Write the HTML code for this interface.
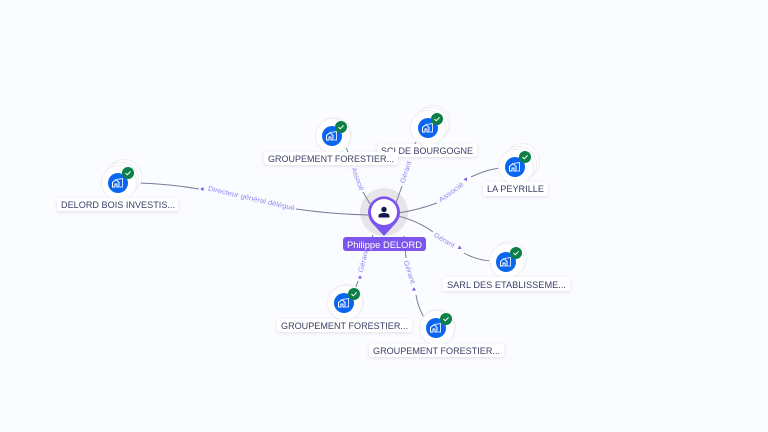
<!DOCTYPE html>
<html><head><meta charset="utf-8"><style>
html,body{margin:0;padding:0;background:#fbfcff;width:768px;height:432px;overflow:hidden}
svg{display:block}
.l{font:9.5px "Liberation Sans",sans-serif;fill:#3a3f66}
.e{font:7px "Liberation Sans",sans-serif;fill:#9385f3}
.c{fill:none;stroke:#7b7d98;stroke-width:1}
.w{fill:#fff;stroke:#eeeef2;stroke-width:1}
</style></head><body>
<svg width="768" height="432" viewBox="0 0 768 432" xmlns="http://www.w3.org/2000/svg">
<defs>
<filter id="s" x="-20%" y="-50%" width="140%" height="220%"><feDropShadow dx="0" dy="1" stdDeviation="1.5" flood-color="#9a9db5" flood-opacity=".3"/></filter>
<g id="i">
<circle r="10" fill="#0a66f0"/>
<path d="M-5.5 4V-.5L-2 -3.500L1 -.5V4H-1V1H-3V4Z" fill="none" stroke="#fff" stroke-width="1"/>
<path d="M-1 -3.500L4.500 -4.500V4H2" fill="none" stroke="#cfe0ff" stroke-width="1"/>
</g>
<g id="k">
<circle r="6" fill="#0b7f45"/>
<path d="M-2.500 0L-.7 1.800L2.600 -1.600" fill="none" stroke="#fff" stroke-width="1"/>
</g>
<path id="a" d="M-1.800 0L1.500 -2V2Z" fill="#7357e8"/>
</defs>

<!-- halo under connectors -->
<circle cx="384" cy="212" r="24" fill="#e6e6ea"/>

<!-- connectors -->
<path class="c" d="M139 183Q170 184 199 189"/>
<path class="c" d="M296 209Q330 214 368 215"/>
<path class="c" d="M344 143L348 152M363 192L370 204"/>
<path class="c" d="M416 142L413 147M402 186L396 203"/>
<path class="c" d="M398 213Q418 210 437 203"/>
<path class="c" d="M471 177Q485 170 500 168"/>
<path class="c" d="M398 216Q418 221 433 232"/>
<path class="c" d="M464 253Q476 260 491 261"/>
<path class="c" d="M373 235L367 249M358 281L356 287"/>
<path class="c" d="M404 236L406 258M416 295Q418 308 425 319"/>

<!-- arrows -->
<use href="#a" transform="translate(202 189)"/>
<use href="#a" transform="translate(466 179) rotate(125)"/>
<use href="#a" transform="translate(460 248) rotate(210)"/>
<use href="#a" transform="translate(360 277) rotate(90)"/>
<use href="#a" transform="translate(414 289) rotate(90)"/>

<!-- edge labels -->
<text class="e" transform="translate(251.500 198) rotate(13)" text-anchor="middle" dy="2.500" textLength="89" lengthAdjust="spacingAndGlyphs">Directeur général délégué</text>
<text class="e" transform="translate(358 179) rotate(70)" text-anchor="middle" dy="2.500" textLength="24" lengthAdjust="spacingAndGlyphs">Associé</text>
<text class="e" transform="translate(405.500 172) rotate(-72)" text-anchor="middle" dy="2.500" textLength="23" lengthAdjust="spacingAndGlyphs">Gérant</text>
<text class="e" transform="translate(451 192) rotate(-36)" text-anchor="middle" dy="2.500" textLength="29" lengthAdjust="spacingAndGlyphs">Associé</text>
<text class="e" transform="translate(444.500 240) rotate(30)" text-anchor="middle" dy="2.500" textLength="23" lengthAdjust="spacingAndGlyphs">Gérant</text>
<text class="e" transform="translate(363 261) rotate(-75)" text-anchor="middle" dy="2.500" textLength="23" lengthAdjust="spacingAndGlyphs">Gérant</text>
<text class="e" transform="translate(410 273) rotate(72)" text-anchor="middle" dy="2.500" textLength="26" lengthAdjust="spacingAndGlyphs">Gérant.</text>

<!-- DELORD BOIS -->
<circle class="w" cx="124" cy="177" r="17.500"/><circle class="w" cx="121" cy="180" r="17.500"/><circle class="w" cx="119" cy="183" r="17.500"/>
<use href="#i" x="118" y="183"/><use href="#k" x="128" y="173"/>
<!-- Groupement top -->
<circle class="w" cx="334" cy="135" r="17.500"/><circle class="w" cx="333" cy="136" r="17.500"/>
<use href="#i" x="332" y="136"/><use href="#k" x="341" y="127"/>
<!-- SCI -->
<circle class="w" cx="433" cy="123" r="17.500"/><circle class="w" cx="431" cy="125" r="17.500"/><circle class="w" cx="428" cy="128" r="17.500"/>
<use href="#i" x="428" y="128"/><use href="#k" x="437" y="119"/>
<!-- La Peyrille -->
<circle class="w" cx="522" cy="161" r="17.500"/><circle class="w" cx="519" cy="164" r="17.500"/><circle class="w" cx="516" cy="167" r="17.500"/>
<use href="#i" x="515" y="167"/><use href="#k" x="525" y="157"/>
<!-- SARL -->
<circle class="w" cx="509" cy="259" r="17.500"/><circle class="w" cx="507" cy="261" r="17.500"/>
<use href="#i" x="506" y="262"/><use href="#k" x="516" y="253"/>
<!-- Groupement BL -->
<circle class="w" cx="346" cy="302" r="17.500"/><circle class="w" cx="345" cy="303" r="17.500"/>
<use href="#i" x="344" y="303"/><use href="#k" x="354" y="294"/>
<!-- Groupement BR -->
<circle class="w" cx="438" cy="327" r="17.500"/><circle class="w" cx="437" cy="328" r="17.500"/>
<use href="#i" x="436" y="328"/><use href="#k" x="446" y="319"/>

<!-- label boxes -->
<rect x="377" y="144" width="100" height="13" rx="2.500" fill="#fff" filter="url(#s)"/>
<text class="l" x="381" y="154" textLength="92" lengthAdjust="spacingAndGlyphs">SCI DE BOURGOGNE</text>
<rect x="264" y="152" width="134" height="13" rx="2.500" fill="#fff" filter="url(#s)"/>
<text class="l" x="268" y="162" textLength="126" lengthAdjust="spacingAndGlyphs">GROUPEMENT FORESTIER...</text>
<rect x="57" y="198" width="121" height="13" rx="2.500" fill="#fff" filter="url(#s)"/>
<text class="l" x="61" y="208" textLength="114" lengthAdjust="spacingAndGlyphs">DELORD BOIS INVESTIS...</text>
<rect x="483" y="182" width="65" height="14" rx="2.500" fill="#fff" filter="url(#s)"/>
<text class="l" x="487" y="192" textLength="57" lengthAdjust="spacingAndGlyphs">LA PEYRILLE</text>
<rect x="443" y="277" width="127" height="14" rx="2.500" fill="#fff" filter="url(#s)"/>
<text class="l" x="447" y="288" textLength="119" lengthAdjust="spacingAndGlyphs">SARL DES ETABLISSEME...</text>
<rect x="277" y="319" width="135" height="13" rx="2.500" fill="#fff" filter="url(#s)"/>
<text class="l" x="281" y="329" textLength="127" lengthAdjust="spacingAndGlyphs">GROUPEMENT FORESTIER...</text>
<rect x="369" y="344" width="135" height="13" rx="2.500" fill="#fff" filter="url(#s)"/>
<text class="l" x="373" y="354" textLength="127" lengthAdjust="spacingAndGlyphs">GROUPEMENT FORESTIER...</text>

<!-- central pin -->
<path d="M384 236L372.500 223.500A16 16 0 1 1 395.500 223.500Z" fill="#7c55ee"/>
<circle cx="384" cy="212" r="13" fill="#fff"/>
<circle cx="384" cy="209.500" r="2.700" fill="#101a4c"/>
<path d="M378.500 217.500V216Q378.500 213 384 213Q389.500 213 389.500 216V217.500Z" fill="#101a4c"/>
<rect x="343" y="237" width="83" height="14" rx="3" fill="#7c55ee"/>
<text x="347" y="248" font-family="Liberation Sans, sans-serif" font-size="9.500" fill="#fff" textLength="75" lengthAdjust="spacingAndGlyphs">Philippe DELORD</text>
</svg>
</body></html>
